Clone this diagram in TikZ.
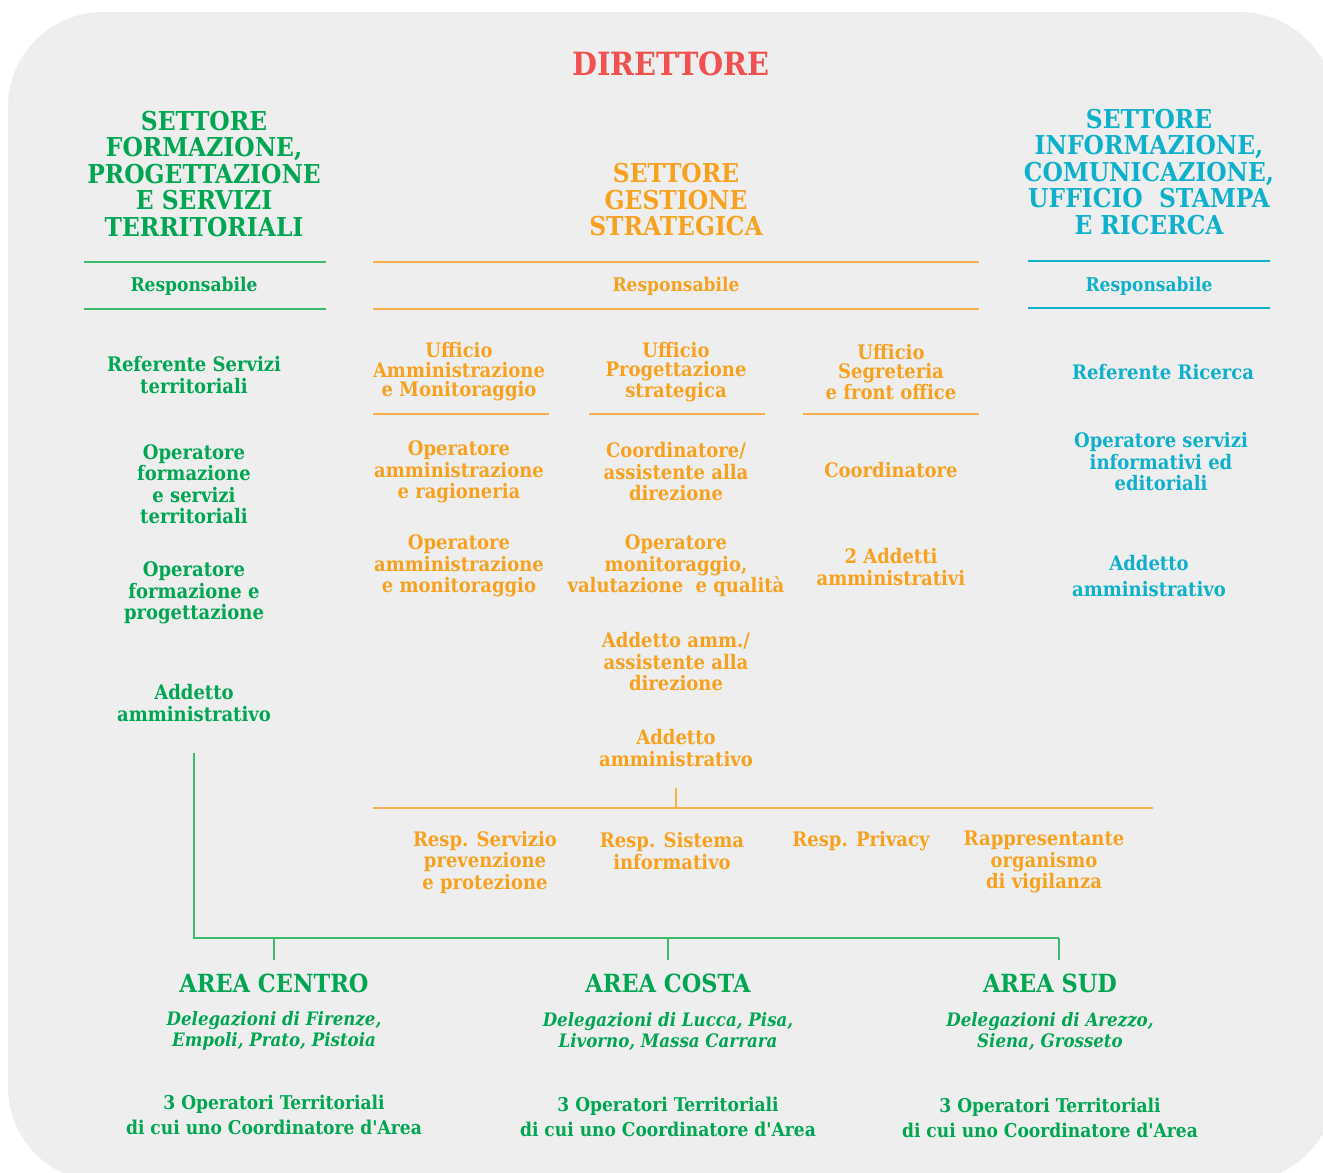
\documentclass[tikz,border=0pt]{standalone}
\usepackage{fontspec}
\IfFontExistsTF{DejaVu Serif Condensed}{\setmainfont{DejaVu Serif Condensed}}{\setmainfont{DejaVu Serif}}
\usepackage{tikz}
\usetikzlibrary{positioning}
\definecolor{bgcol}{HTML}{EEEEEE}
\definecolor{redc}{HTML}{F0514F}
\definecolor{grnc}{HTML}{00A651}
\definecolor{grnl}{HTML}{3DB96B}
\definecolor{orac}{HTML}{F7A11F}
\definecolor{oral}{HTML}{F9AE4D}
\definecolor{cyac}{HTML}{0FB0CB}
\newcommand{\strapos}{{\addfontfeatures{Ligatures=TeXOff}'}}
\tikzset{every node/.style={align=center, inner sep=0pt}}

\begin{document}
\begin{tikzpicture}[x=1pt, y=-1pt,
    headtxt/.style={font=\fontsize{26}{26.5}\selectfont\bfseries},
    resptxt/.style={font=\fontsize{19}{21}\selectfont\bfseries},
    bodytxt/.style={font=\fontsize{20}{21.5}\selectfont\bfseries},
    uffitxt/.style={font=\fontsize{20}{19.5}\selectfont\bfseries},
    areatxt/.style={font=\fontsize{25}{27}\selectfont\bfseries},
    delegtxt/.style={font=\fontsize{18.5}{21}\selectfont\bfseries\itshape},
    optxt/.style={font=\fontsize{19}{25.5}\selectfont\bfseries},
    gline/.style={grnl, line width=1.5pt},
    oline/.style={oral, line width=1.5pt},
    cline/.style={cyac, line width=1.5pt}]

        \useasboundingbox (0,0) rectangle (1323,1173);

        % Background
        \fill[bgcol, rounded corners=95pt] (8,12) rectangle (1335,1182);

        % Direttore
        \node[text=redc, font=\fontsize{32}{34}\selectfont\bfseries] (dir) at (671,64) {DIRETTORE};

        % Settori
        \node[headtxt, text=grnc] (sfp) at (204,174) {SETTORE\\FORMAZIONE,\\PROGETTAZIONE\\E SERVIZI\\TERRITORIALI};
        \node[headtxt, text=orac] (sgs) at (676,200) {SETTORE\\GESTIONE\\STRATEGICA};
        \node[headtxt, text=cyac] (sic) at (1149,172) {SETTORE\\INFORMAZIONE,\\COMUNICAZIONE,\\UFFICIO\ \ STAMPA\\E RICERCA};

        % Responsabili
        \draw[gline] (84,262) -- (326,262);
        \draw[gline] (84,309) -- (326,309);
        \node[resptxt, text=grnc] (rsfp) at (194,286) {Responsabile};
        \draw[oline] (373,262) -- (979,262);
        \draw[oline] (373,309) -- (979,309);
        \node[resptxt, text=orac] (rsgs) at (676,286) {Responsabile};
        \draw[cline] (1028,261) -- (1270,261);
        \draw[cline] (1028,308) -- (1270,308);
        \node[resptxt, text=cyac] (rsic) at (1149,286) {Responsabile};

        % Settore formazione
        \node[bodytxt, text=grnc] (gref) at (194,375) {Referente Servizi\\territoriali};
        \node[bodytxt, text=grnc] (gopa) at (194,484) {Operatore\\formazione\\e servizi\\territoriali};
        \node[bodytxt, text=grnc] (gopb) at (194,593) {Operatore\\formazione e\\progettazione};
        \node[bodytxt, text=grnc] (gadd) at (194,703) {Addetto\\amministrativo};

        % Uffici
        \node[uffitxt, text=orac] (uam) at (459,372) {Ufficio\\Amministrazione\\e Monitoraggio};
        \node[uffitxt, text=orac] (ups) at (676,372) {Ufficio\\Progettazione\\strategica};
        \node[uffitxt, text=orac] (usf) at (891,372) {Ufficio\\Segreteria\\e front office};
        \draw[oline] (373,414) -- (549,414);
        \draw[oline] (589,414) -- (765,414);
        \draw[oline] (803,414) -- (979,414);

        % Ufficio amministrazione
        \node[bodytxt, text=orac] (oara) at (459,472) {Operatore\\amministrazione\\e ragioneria};
        \node[bodytxt, text=orac] (oamo) at (459,566) {Operatore\\amministrazione\\e monitoraggio};

        % Ufficio progettazione
        \node[bodytxt, text=orac] (ocoo) at (676,472) {Coordinatore/\\assistente alla\\direzione};
        \node[bodytxt, text=orac] (omon) at (676,566) {Operatore\\monitoraggio,\\valutazione\ \ e qualità};
        \node[bodytxt, text=orac] (oamm) at (676,662) {Addetto amm./\\assistente alla\\direzione};
        \node[bodytxt, text=orac] (oadd) at (676,748) {Addetto\\amministrativo};

        % Ufficio segreteria
        \node[bodytxt, text=orac] (scoo) at (891,470) {Coordinatore};
        \node[bodytxt, text=orac] (sadd) at (891,567) {2 Addetti\\amministrativi};

        % Settore informazione
        \node[bodytxt, text=cyac] (cref) at (1163,372) {Referente Ricerca};
        \node[bodytxt, text=cyac] (cope) at (1161,462) {Operatore servizi\\informativi ed\\editoriali};
        \node[bodytxt, text=cyac, font=\fontsize{20}{26}\selectfont\bfseries] (cadd) at (1149,576) {Addetto\\amministrativo};

        % Staff del direttore
        \coordinate (obl) at (373,808);
        \coordinate (obr) at (1153,808);
        \draw[oline] ([yshift=-21pt]oadd.south) -- (oadd |- obl);
        \draw[oline] (obl) -- (obr);
        \node[bodytxt, text=orac] (rspp) at (485,862) {Resp. Servizio\\prevenzione\\e protezione};
        \node[bodytxt, text=orac] (rsis) at (672,851) {Resp. Sistema\\informativo};
        \node[bodytxt, text=orac] (rpri) at (861,841) {Resp. Privacy};
        \node[bodytxt, text=orac] (rodv) at (1044,862) {Rappresentante\\organismo\\di vigilanza};

        % Aree territoriali
        \node[areatxt, text=grnc] (acen) at (274,983) {AREA CENTRO};
        \node[areatxt, text=grnc] (acos) at (668,983) {AREA COSTA};
        \node[areatxt, text=grnc] (asud) at (1050,983) {AREA SUD};
        \coordinate (gbl) at (194,938);
        \coordinate (gbr) at (1059,938);
        \draw[gline, line width=2pt] ([yshift=-31pt]gadd.south) -- (gbl) -- (gbr);
        \draw[gline] (acen |- gbl) -- ++(0,22);
        \draw[gline] (acos |- gbl) -- ++(0,22);
        \draw[gline] (gbr) -- ++(0,22);

        \node[delegtxt, text=grnc] (dcen) at (274,1031) {Delegazioni di Firenze,\\Empoli, Prato, Pistoia};
        \node[delegtxt, text=grnc] (dcos) at (668,1031) {Delegazioni di Lucca, Pisa,\\Livorno, Massa Carrara};
        \node[delegtxt, text=grnc] (dsud) at (1050,1031) {Delegazioni di Arezzo,\\Siena, Grosseto};

        \node[optxt, text=grnc] (ocen) at (274,1115) {3 Operatori Territoriali\\di cui uno Coordinatore d\strapos Area};
        \node[optxt, text=grnc] (ocos) at (668,1117) {3 Operatori Territoriali\\di cui uno Coordinatore d\strapos Area};
        \node[optxt, text=grnc] (osud) at (1050,1118) {3 Operatori Territoriali\\di cui uno Coordinatore d\strapos Area};

    \end{tikzpicture}
\end{document}
